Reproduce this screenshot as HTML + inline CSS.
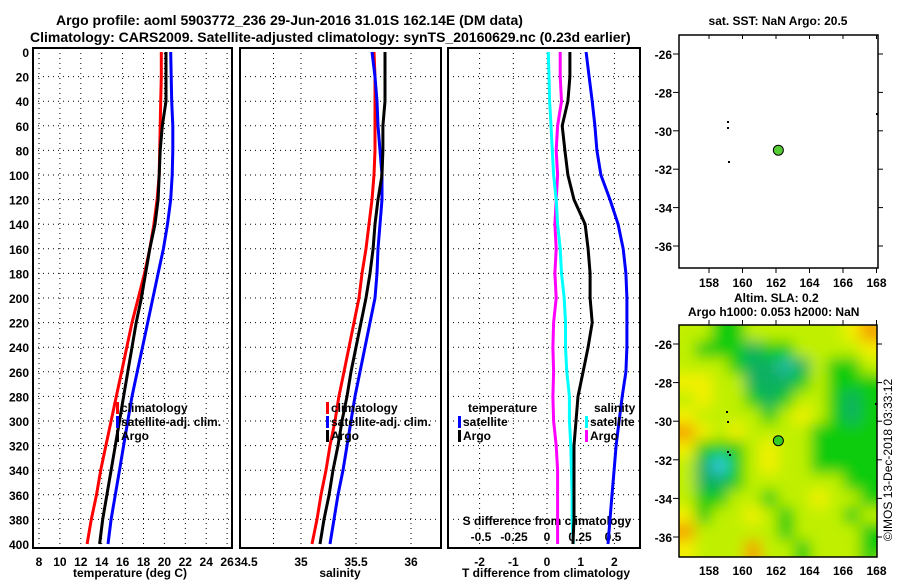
<!DOCTYPE html>
<html><head><meta charset="utf-8"><style>
body{margin:0;background:#fff;}
svg{display:block;font-family:"Liberation Sans",Arial,sans-serif;font-weight:bold;}
</style></head><body>
<svg id="c" width="900" height="580" viewBox="0 0 900 580">
<defs>
<filter id="blur" x="0" y="0" width="1" height="1"><feGaussianBlur stdDeviation="7"/></filter>
<clipPath id="mapclip"><rect x="679" y="325" width="198" height="232"/></clipPath>
</defs>
<text x="56" y="25" font-size="14">Argo profile: aoml 5903772_236 29-Jun-2016 31.01S 162.14E (DM data)</text>
<text x="30" y="42" font-size="14">Climatology: CARS2009. Satellite-adjusted climatology: synTS_20160629.nc (0.23d earlier)</text>
<text x="778" y="25" font-size="12" text-anchor="middle">sat. SST: NaN Argo: 20.5</text>
<text x="734" y="302" font-size="12">Altim. SLA: 0.2</text>
<text x="688" y="316" font-size="12">Argo h1000: 0.053 h2000: NaN</text>
<text transform="translate(892,460) rotate(-90)" font-size="12" font-weight="normal" text-anchor="middle">©IMOS 13-Dec-2018 03:33:12</text>
<g id="g"></g>
</svg>
<script>
const depths=[0,20,40,60,80,100,120,140,160,180,200,220,240,260,280,300,320,340,360,380,400];
const tempClim=[19.7,19.7,19.65,19.6,19.55,19.5,19.3,19.0,18.6,18.1,17.5,16.9,16.4,15.9,15.4,14.9,14.4,13.9,13.5,13.0,12.6];
const tempSat=[20.6,20.65,20.7,20.8,20.8,20.75,20.6,20.3,19.9,19.4,18.9,18.4,17.9,17.4,16.9,16.5,16.1,15.7,15.3,14.9,14.6];
const tempArgo=[20.15,20.15,20.15,19.8,19.6,19.5,19.4,19.1,18.6,18.2,17.8,17.3,16.9,16.5,16.1,15.7,15.3,14.9,14.5,14.1,13.8];
const salClim=[35.664,35.673,35.673,35.673,35.673,35.664,35.645,35.618,35.591,35.555,35.527,35.482,35.436,35.391,35.345,35.309,35.264,35.227,35.182,35.145,35.100];
const salSat=[35.645,35.673,35.691,35.700,35.718,35.736,35.736,35.718,35.700,35.691,35.673,35.627,35.582,35.536,35.491,35.455,35.418,35.382,35.336,35.300,35.264];
const salArgo=[35.764,35.764,35.764,35.745,35.745,35.736,35.700,35.673,35.655,35.627,35.591,35.545,35.500,35.455,35.418,35.373,35.336,35.291,35.255,35.209,35.173];
const tDiffSat=[1.16,1.25,1.34,1.42,1.48,1.60,1.87,2.11,2.26,2.34,2.37,2.37,2.37,2.34,2.23,2.14,2.05,1.99,1.93,1.87,1.81];
const tDiffArgo=[0.68,0.68,0.62,0.45,0.53,0.62,0.80,1.13,1.22,1.28,1.28,1.34,1.22,1.07,0.92,0.86,0.80,0.80,0.80,0.80,0.77];
const sDiffSat=[0.01,0.015,0.02,0.03,0.04,0.05,0.07,0.08,0.10,0.11,0.13,0.14,0.14,0.15,0.17,0.17,0.18,0.185,0.19,0.19,0.20];
const sDiffArgo=[0.10,0.10,0.11,0.08,0.07,0.08,0.07,0.06,0.07,0.06,0.07,0.05,0.045,0.05,0.045,0.05,0.07,0.08,0.08,0.08,0.08];
const depthTicks=[0,20,40,60,80,100,120,140,160,180,200,220,240,260,280,300,320,340,360,380,400];
const tempTicks=[8,10,12,14,16,18,20,22,24,26];
const salTicks=[34.5,35,35.5,36];
const tdTicks=[-2,-1,0,1,2];
const sdTicks=[-0.5,-0.25,0,0.25,0.5];
const sdTickLabels=["-0.5","-0.25","0","0.25","0.5"];
const latTicks=[-26,-28,-30,-32,-34,-36];
const lonTicks=[158,160,162,164,166,168];
const argoLon=162.14, argoLat=-31.01;
const slaGrid=[
[3,3,2,2,3,3,3,3,3,3,4,5],
[3,2,2,2,1,2,2,3,3,3,3,4],
[3,3,3,2,1,1,0.5,1,3,2,2,3],
[4,4,3,3,1,1,1,2,3,2,2,2],
[3,4,3,3,2,1,2,3,3,2,1,2],
[4,3,3,3,3,2,3,4,3,2,1,2],
[5,4,3,4,3,3,3,3,2,2,2,2],
[4,2,2,2,3,4,3,3,2,2,2,2],
[3,1,0,2,3,4,3,3,2,2,2,2],
[3,1,1,2,3,3,3,3,3,3,2,2],
[3,2,2,3,3,2,3,3,4,3,3,2],
[4,2,3,3,4,3,2,3,3,3,2,3],
[5,3,3,3,3,3,2,3,3,3,3,2],
[4,3,3,3,5,3,3,2,3,3,3,2]];
const NS="http://www.w3.org/2000/svg";
const G=document.getElementById('g');
function el(t,a,p){const e=document.createElementNS(NS,t);for(const k in a)e.setAttribute(k,a[k]);(p||G).appendChild(e);return e;}
const yD=d=>52+d*1.23;
const xT=v=>39+(v-8)*10.45;
const xS=v=>301+(v-35)*110;
const xTD=v=>547+v*33.7;
const xSD=v=>547+v*132;
const yLat=v=>344+(-26-v)*19.3;
const yLat2=v=>54+(-26-v)*19.2;
const xLon=v=>709+(v-158)*16.75;
function txt(x,y,s,size,anchor,name){const t=el('text',{x:x,y:y,'font-size':size,'text-anchor':anchor||'start'});t.textContent=s;

return t;}
function panel(x0,x1,name,vticks,xf){
 const g=el('g',{});
 
 
 depthTicks.forEach(d=>{if(d>0&&d<400){const l=el('line',{x1:x0,x2:x1,y1:yD(d),y2:yD(d),stroke:'#000','stroke-dasharray':'1,4'},g);
 }});
 vticks.forEach(v=>{const l=el('line',{x1:xf(v),x2:xf(v),y1:48,y2:548,stroke:'#000','stroke-dasharray':'1,4'},g);
 });
 const r=el('rect',{x:x0,y:48,width:x1-x0,height:500,fill:'none',stroke:'#000','stroke-width':2},g);
 
 return g;}
function series(vals,xf,color,name,w){
 const pts=vals.map((v,i)=>xf(v).toFixed(1)+','+yD(depths[i]).toFixed(1)).join(' ');
 const p=el('polyline',{points:pts,fill:'none',stroke:color,'stroke-width':w||3});
 
 }
function legend(x,y,items){items.forEach((it,i)=>{const yy=y+i*14;
 const r=el('rect',{x:x,y:yy-10,width:3,height:12,fill:it[1]});
 
 txt(x+5,yy,it[0],12,'start','legend-entry');});}
panel(33,232,'temperature-panel',tempTicks,xT);
depthTicks.forEach(d=>txt(29,yD(d)+5,String(d),12,'end','depth-tick-label'));
tempTicks.forEach(v=>txt(xT(v),566,String(v),12,'middle','temperature-tick-label'));
txt(130,577,'temperature (deg C)',12,'middle','temperature-axis-title');
series(tempClim,xT,'#f00','temp-climatology-line');
series(tempArgo,xT,'#000','temp-argo-line');
series(tempSat,xT,'#00f','temp-satellite-line');
legend(116,412,[['climatology','#f00'],['satellite-adj. clim.','#00f'],['Argo','#000']]);
panel(240,441,'salinity-panel',[34.75,35,35.5,36],xS);
salTicks.forEach(v=>txt(xS(v),566,String(v),12,'middle','salinity-tick-label'));
txt(340,577,'salinity',12,'middle','salinity-axis-title');
series(salClim,xS,'#f00','sal-climatology-line');
series(salSat,xS,'#00f','sal-satellite-line');
series(salArgo,xS,'#000','sal-argo-line');
legend(326,412,[['climatology','#f00'],['satellite-adj. clim.','#00f'],['Argo','#000']]);
panel(448,640,'difference-panel',tdTicks,xTD);
tdTicks.forEach(v=>txt(xTD(v),566,String(v),12,'middle','tdiff-tick-label'));
txt(546,577,'T difference from climatology',12,'middle','tdiff-axis-title');
txt(547,525,'S difference from climatology',12,'middle','sdiff-axis-title');
sdTicks.forEach((v,i)=>txt(xSD(v),541,sdTickLabels[i],12,'middle','sdiff-tick-label'));
series(sDiffArgo,xSD,'#f0f','sdiff-argo-line');
series(sDiffSat,xSD,'#0ff','sdiff-satellite-line');
series(tDiffArgo,xTD,'#000','tdiff-argo-line');
series(tDiffSat,xTD,'#00f','tdiff-satellite-line');
txt(468,412,'temperature',12,'start','legend-heading-temperature');
legend(458,426,[['satellite','#00f'],['Argo','#000']]);
txt(594,412,'salinity',12,'start','legend-heading-salinity');
legend(585,426,[['satellite','#0ff'],['Argo','#f0f']]);
const m1=el('rect',{x:679,y:35,width:199,height:233,fill:'#fff',stroke:'#000','stroke-width':1.5});

latTicks.forEach(v=>{txt(672,yLat2(v)+5,String(v),12,'end','sst-lat-tick-label');el('line',{x1:673,x2:679,y1:yLat2(v),y2:yLat2(v),stroke:'#000'});el('line',{x1:878,x2:883,y1:yLat2(v),y2:yLat2(v),stroke:'#000'});});
lonTicks.forEach(v=>{txt(xLon(v),287,String(v),12,'middle','sst-lon-tick-label');el('line',{x1:xLon(v),x2:xLon(v),y1:268,y2:273,stroke:'#000'});el('line',{x1:xLon(v),x2:xLon(v),y1:35,y2:39,stroke:'#000'});});
[[727,121],[727,127],[728,161],[876,113]].forEach(p=>el('rect',{x:p[0],y:p[1],width:2,height:2,fill:'#000'}));
const d1=el('circle',{cx:xLon(argoLon),cy:yLat2(argoLat),r:5,fill:'#5c3',stroke:'#000'});

const colors=['#33c8e0','#10b060','#10cc10','#c0f000','#f4f000','#f4a000'];
function col(v){const i=Math.floor(v);if(i>=5)return colors[5];const f=v-i;
 const a=colors[i],b=colors[i+1];const h=c=>[1,3,5].map(k=>parseInt(c.substr(k,2),16));
 const A=h(a),B=h(b);return 'rgb('+A.map((x,k)=>Math.round(x+(B[k]-x)*f)).join(',')+')';}
const hm=el('g',{'clip-path':'url(#mapclip)'});

const inner=el('g',{filter:'url(#blur)'},hm);
const cw=198/12,ch=232/14;
el('rect',{x:660,y:305,width:240,height:275,fill:'#d0f000'},inner);
slaGrid.forEach((row,r)=>row.forEach((v,c)=>{const cell=el('rect',{x:679+c*cw-0.5,y:325+r*ch-0.5,width:cw+1,height:ch+1,fill:col(v)},inner);
 }));
slaGrid.forEach((row,r)=>{el('rect',{x:660,y:325+r*ch,width:19,height:ch,fill:col(row[0])},inner);el('rect',{x:877,y:325+r*ch,width:20,height:ch,fill:col(row[11])},inner);});
slaGrid[0].forEach((v,c)=>el('rect',{x:679+c*cw,y:305,width:cw,height:20,fill:col(v)},inner));
slaGrid[13].forEach((v,c)=>el('rect',{x:679+c*cw,y:557,width:cw,height:20,fill:col(v)},inner));
const m2=el('rect',{x:679,y:325,width:198,height:232,fill:'none',stroke:'#000','stroke-width':1.5});

latTicks.forEach(v=>{txt(672,yLat(v)+5,String(v),12,'end','sla-lat-tick-label');el('line',{x1:673,x2:679,y1:yLat(v),y2:yLat(v),stroke:'#000'});el('line',{x1:877,x2:882,y1:yLat(v),y2:yLat(v),stroke:'#000'});});
lonTicks.forEach(v=>{txt(xLon(v),575,String(v),12,'middle','sla-lon-tick-label');el('line',{x1:xLon(v),x2:xLon(v),y1:320,y2:325,stroke:'#000'});});
[[726,411],[727,421],[727,451],[729,454],[875,403]].forEach(p=>el('rect',{x:p[0],y:p[1],width:2,height:2,fill:'#000'}));
const d2=el('circle',{cx:xLon(argoLon),cy:yLat(argoLat),r:5,fill:'#3c2',stroke:'#000'});

</script>
</body></html>
